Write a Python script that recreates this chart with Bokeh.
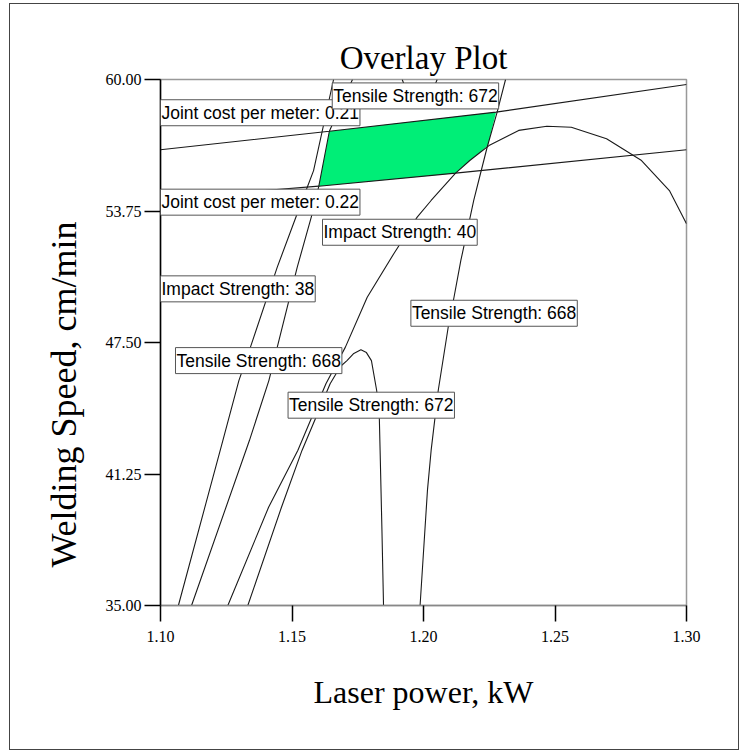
from bokeh.plotting import figure
from bokeh.models import Label, FixedTicker, PrintfTickFormatter, Range1d, Title
from bokeh.embed import file_html
from bokeh.resources import INLINE

# ---------------- data ----------------
x_ticks = [1.10, 1.15, 1.20, 1.25, 1.30]
y_ticks = [35.0, 41.25, 47.5, 53.75, 60.0]

# Joint cost per meter = 0.21
cost021_x = [1.1000, 1.1642, 1.2276, 1.3000]
cost021_y = [56.66, 57.54, 58.45, 59.76]

# Joint cost per meter = 0.22
cost022_x = [1.1000, 1.1362, 1.1602, 1.2122, 1.3000]
cost022_y = [54.34, 54.69, 54.93, 55.55, 56.66]

# Impact Strength = 38
impact38_x = [1.1068, 1.1237, 1.1298, 1.1342, 1.1444, 1.1520, 1.1558, 1.1582, 1.1658]
impact38_y = [35.00, 42.84, 45.69, 47.28, 51.08, 53.63, 54.88, 55.67, 60.00]

# Tensile Strength = 668 (left branch)
tensile668a_x = [1.1118, 1.1338, 1.1412, 1.1444, 1.1520, 1.1577, 1.1602, 1.1642, 1.1730]
tensile668a_y = [35.00, 42.84, 45.69, 47.28, 51.08, 53.63, 54.93, 57.54, 60.00]

# Tensile Strength = 668 (right branch)
tensile668b_x = [1.1987, 1.2015, 1.2029, 1.2056, 1.2096, 1.2116, 1.2142, 1.2191, 1.2210, 1.2242, 1.2280, 1.2312]
tensile668b_y = [35.00, 40.47, 42.37, 45.22, 48.39, 49.65, 51.40, 54.25, 55.20, 56.78, 58.45, 60.00]

# Impact Strength = 40
impact40_x = [1.1256, 1.1411, 1.1522, 1.1629, 1.1703, 1.1786, 1.1887, 1.1976, 1.2029,
              1.2122, 1.2176, 1.2216, 1.2249, 1.2362, 1.2469, 1.2562, 1.2696, 1.2829,
              1.2935, 1.3000]
impact40_y = [35.00, 39.67, 42.37, 45.54, 47.28, 49.65, 51.72, 53.46, 54.25,
              55.55, 56.15, 56.54, 56.86, 57.58, 57.78, 57.73, 57.18, 56.15,
              54.72, 53.14]

# Tensile Strength = 672 (lower hill)
tensile672a_x = [1.1332, 1.1460, 1.1538, 1.1645, 1.1684, 1.1709, 1.1735, 1.1762, 1.1783,
                 1.1802, 1.1822, 1.1832, 1.1835, 1.1842, 1.1848]
tensile672a_y = [35.00, 39.67, 42.37, 45.54, 46.36, 46.64, 46.98, 47.15, 47.02,
                 46.64, 45.22, 43.95, 42.37, 38.56, 35.00]

# Tensile Strength = 672 (upper branch)
tensile672b_x = [1.1919, 1.1932, 1.1985, 1.2038, 1.2052]
tensile672b_y = [60.00, 59.57, 59.19, 59.57, 60.00]

# overlay (feasible) region
region_x = [1.1642, 1.2276, 1.2245, 1.2216, 1.2176, 1.2122, 1.1602]
region_y = [57.54, 58.45, 56.86, 56.54, 56.15, 55.55, 54.93]

label_texts = ["Joint cost per meter: 0.21", "Joint cost per meter: 0.22",
               "Tensile Strength: 672", "Impact Strength: 40", "Impact Strength: 38",
               "Tensile Strength: 668", "Tensile Strength: 668", "Tensile Strength: 672"]
label_x = [1.1000, 1.1000, 1.1653, 1.1616, 1.1000, 1.1057, 1.1952, 1.1485]
label_y = [58.42, 54.17, 59.22, 52.74, 50.05, 46.64, 48.89, 44.52]

# ---------------- figure ----------------
p = figure(width=730, height=747, output_backend="svg", toolbar_location=None,
           x_range=Range1d(1.10, 1.30), y_range=Range1d(35, 60),
           min_border_left=150, min_border_right=54, min_border_top=75, min_border_bottom=146,
           title="Overlay Plot")
p.styles = {"border": "1px solid #444", "margin-left": "9px", "margin-top": "3px"}
p.background_fill_color = "white"
p.border_fill_color = "white"
p.outline_line_color = "#999999"
p.outline_line_width = 1.5
p.xgrid.visible = False
p.ygrid.visible = False

p.title.align = "center"
p.title.text_font = "Liberation Serif"
p.title.text_font_size = "33px"
p.title.text_font_style = "normal"
p.title.text_color = "black"
p.title.standoff = 7

for ax in (p.xaxis[0], p.yaxis[0]):
    ax.major_tick_out = 16
    ax.major_tick_in = 0
    ax.minor_tick_out = 0
    ax.minor_tick_in = 0
    ax.major_tick_line_color = "black"
    ax.major_tick_line_width = 1.5
    ax.major_label_text_font = "Liberation Serif"
    ax.major_label_text_font_size = "16px"
    ax.major_label_text_color = "black"
    ax.formatter = PrintfTickFormatter(format="%.2f")

p.xaxis[0].major_label_standoff = 9
p.yaxis[0].major_label_standoff = 3
p.xaxis[0].ticker = FixedTicker(ticks=x_ticks)
p.yaxis[0].ticker = FixedTicker(ticks=y_ticks)
p.xaxis[0].axis_line_color = "#888888"
p.xaxis[0].axis_line_width = 1.5
p.yaxis[0].axis_line_color = "black"
p.yaxis[0].axis_line_width = 1.5

p.xaxis[0].axis_label = "Laser power, kW"
p.xaxis[0].axis_label_text_font = "Liberation Serif"
p.xaxis[0].axis_label_text_font_size = "32px"
p.xaxis[0].axis_label_text_font_style = "normal"
p.xaxis[0].axis_label_text_color = "black"
p.xaxis[0].axis_label_standoff = 29

# y axis title, placed lower than the frame centre as in the reference
ytitle = Title(text="Welding Speed, cm/min", align="left", offset=38,
               text_font="Liberation Serif", text_font_size="36px",
               text_font_style="normal", text_color="black", standoff=37)
p.add_layout(ytitle, "left")

# overlay region
p.patch(region_x, region_y, fill_color="#00EE77", line_color=None)

line_kw = dict(line_color="#1a1a1a", line_width=1.1)
for xs, ys in [(cost021_x, cost021_y), (cost022_x, cost022_y),
               (impact38_x, impact38_y), (tensile668a_x, tensile668a_y),
               (tensile668b_x, tensile668b_y), (impact40_x, impact40_y),
               (tensile672a_x, tensile672a_y), (tensile672b_x, tensile672b_y)]:
    p.line(xs, ys, **line_kw)

for t, lx, ly in zip(label_texts, label_x, label_y):
    p.add_layout(Label(x=lx, y=ly, text=t, text_align="left", text_baseline="middle",
                       text_font="Liberation Sans", text_font_size="17.5px",
                       text_color="black", background_fill_color="white",
                       border_line_color="#555555", border_line_width=1,
                       padding=(1, 3)))

open("out.html", "w").write(file_html(p, INLINE))
